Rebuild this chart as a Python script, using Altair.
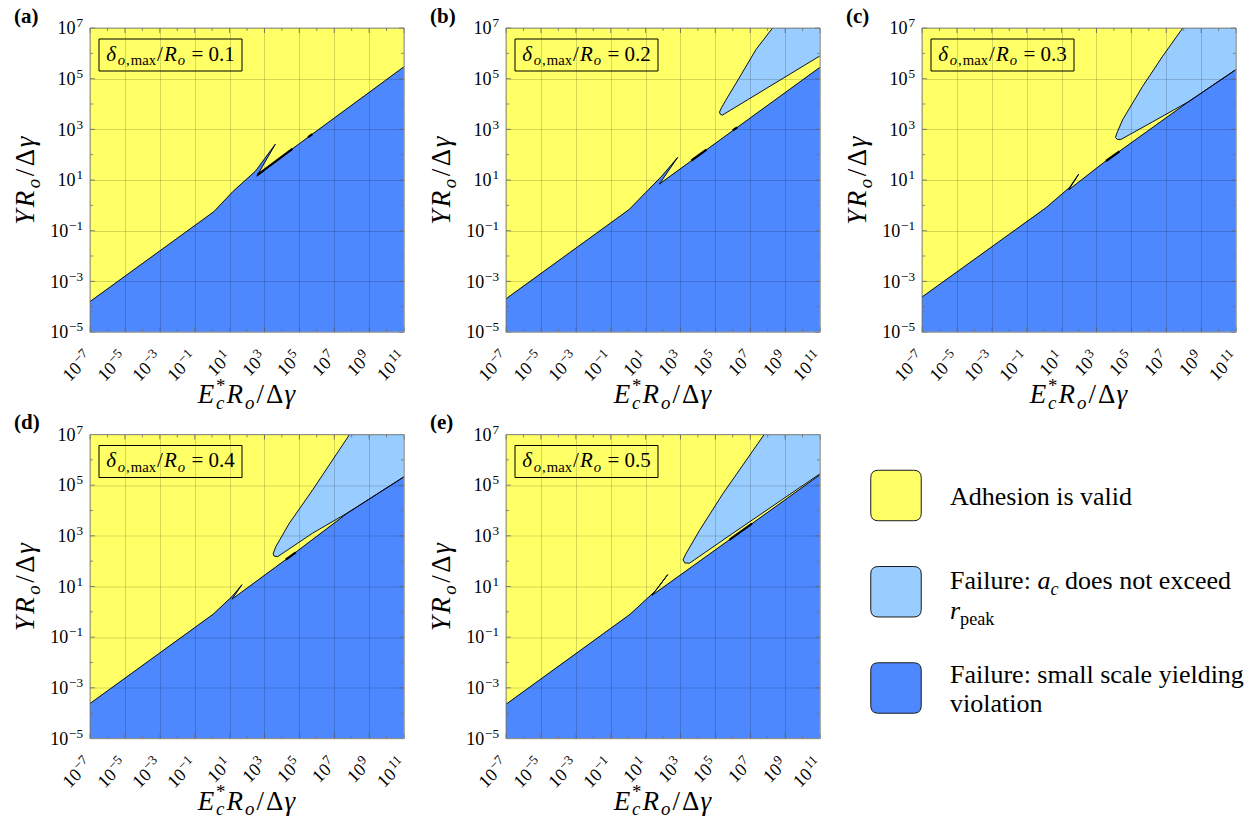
import altair as alt
import pandas as pd

FONT = "Liberation Serif"
YELLOW = "#FFFF66"
LIGHT_BLUE = "#99CCFF"
BLUE = "#4D88FF"
INK = "#000000"

PLOT_W = 314
PLOT_H = 304

# axes are log10 of the dimensionless groups
X_DOMAIN = [-7, 11]
Y_DOMAIN = [-5, 7]
X_TICKS = [-7, -5, -3, -1, 1, 3, 5, 7, 9, 11]
Y_TICKS = [-5, -3, -1, 1, 3, 5, 7]

PANEL_TAGS = ["(a)", "(b)", "(c)", "(d)", "(e)"]
DELTA_RATIOS = ["0.1", "0.2", "0.3", "0.4", "0.5"]

# upper edge of the small-scale-yielding failure region (log10 x, log10 y)
SSY_A_LOGX = [-7.0, 0.1, 1.2, 2.5, 3.62, 2.56, 4.62, 11.0]
SSY_A_LOGY = [-3.8, -0.25, 0.55, 1.36, 2.41, 1.15, 2.24, 5.47]
SSY_B_LOGX = [-7.0, 0.07, 1.0, 1.94, 2.84, 1.79, 11.0]
SSY_B_LOGY = [-3.69, -0.16, 0.5, 1.16, 1.89, 0.84, 5.45]
SSY_C_LOGX = [-7.0, 0.1, 1.45, 1.98, 1.41, 3.4, 8.3, 11.0]
SSY_C_LOGY = [-3.62, -0.1, 0.70, 1.23, 0.61, 1.68, 4.1, 5.36]
SSY_D_LOGX = [-7.0, 0.07, 1.18, 1.71, 1.14, 4.6, 7.8, 11.0]
SSY_D_LOGY = [-3.62, -0.09, 0.63, 1.07, 0.50, 2.25, 3.92, 5.33]
SSY_E_LOGX = [-7.0, 0.11, 1.6, 2.27, 1.37, 11.0]
SSY_E_LOGY = [-3.65, -0.1, 0.85, 1.47, 0.65, 5.41]

# edge of the region where a_c does not exceed r_peak (top edge -> tip -> right edge)
PEAK_B_LOGX = [8.28, 7.33, 6.3, 5.6, 5.35, 5.24, 5.28, 5.4, 11.0]
PEAK_B_LOGY = [7.0, 6.15, 4.95, 4.15, 3.85, 3.68, 3.6, 3.56, 5.9]
PEAK_C_LOGX = [7.95, 6.8, 5.65, 4.51, 4.2, 4.09, 4.2, 4.4, 6.23, 8.3, 11.0]
PEAK_C_LOGY = [7.0, 5.89, 4.70, 3.39, 2.9, 2.68, 2.6, 2.6, 3.3, 4.1, 5.36]
PEAK_D_LOGX = [7.88, 5.77, 4.43, 3.66, 3.5, 3.55, 3.76, 5.77, 7.8, 11.0]
PEAK_D_LOGY = [7.0, 4.82, 3.5, 2.58, 2.3, 2.2, 2.18, 3.11, 3.92, 5.33]
PEAK_E_LOGX = [7.8, 5.43, 4.09, 3.32, 3.15, 3.25, 3.52, 6.0, 8.87, 11.0]
PEAK_E_LOGY = [7.0, 4.66, 3.21, 2.3, 2.05, 1.93, 1.92, 3.1, 4.45, 5.45]

# short stretches where the contour folds onto itself (pairs of end points)
FOLD_A_LOGX = [2.6, 4.6, 5.5, 5.75]
FOLD_A_LOGY = [1.2, 2.23, 2.69, 2.81]
FOLD_B_LOGX = [3.63, 4.49, 6.0, 6.25]
FOLD_B_LOGY = [1.77, 2.2, 2.96, 3.08]
FOLD_C_LOGX = [3.55, 4.32]
FOLD_C_LOGY = [1.75, 2.13]
FOLD_D_LOGX = [4.22, 4.8]
FOLD_D_LOGY = [2.06, 2.35]
FOLD_E_LOGX = [5.8, 7.1]
FOLD_E_LOGY = [2.84, 3.48]

LEGEND_SLOTS = [0, 1, 2]
LEGEND_COLORS = [YELLOW, LIGHT_BLUE, BLUE]

# approximate advance widths (em) of the serif face, for laying out mixed-style text
W_REG = {" ": 0.25, "(": 0.333, ")": 0.333, ",": 0.25, ".": 0.25, "/": 0.278,
         ":": 0.278, "=": 0.564, "*": 0.5, "\u2212": 0.564, "A": 0.722, "F": 0.556,
         "\u0394": 0.612, "a": 0.444, "c": 0.444, "d": 0.5, "e": 0.444, "g": 0.5,
         "h": 0.5, "i": 0.278, "k": 0.5, "l": 0.278, "m": 0.778, "n": 0.5, "o": 0.5,
         "p": 0.5, "r": 0.333, "s": 0.389, "t": 0.278, "u": 0.5, "v": 0.5, "x": 0.5,
         "y": 0.5}
W_ITA = {"E": 0.611, "R": 0.611, "Y": 0.556, "a": 0.5, "c": 0.444, "o": 0.5,
         "r": 0.389, "\u03b4": 0.5, "\u03b3": 0.44}
W_BOLD = {"(": 0.333, ")": 0.333, "a": 0.5, "b": 0.556, "c": 0.444, "d": 0.556,
          "e": 0.444}


def text_width(text, style, size):
    table = {"i": W_ITA, "b": W_BOLD}.get(style, W_REG)
    return sum(table.get(ch, W_REG.get(ch, 0.5)) for ch in text) * size


def rich(pieces, ax, ay, size, angle=0, center=False, gap=0.0):
    """Lay out (text, style, level[, stacked]) pieces; level -1 = subscript, 1 = superscript.
    Leading/trailing blanks are turned into advance, since SVG collapses them."""
    items, adv = [], 0.0
    for p in pieces:
        text, style, level = p[0], p[1], p[2]
        stacked = len(p) > 3 and p[3]
        fs = size if level == 0 else round(size * 0.7, 2)
        shift = 0.0 if level == 0 else (0.22 * size if level < 0 else -0.42 * size)
        lead = len(text) - len(text.lstrip(" "))
        core = text.strip(" ")
        start_at = adv + text_width(" " * lead, "r", fs)
        items.append((core, style, fs, start_at, shift))
        if not stacked:
            adv += text_width(text, style, fs) + gap
    total = adv - gap
    start = -total / 2 if center else 0.0
    rows = []
    for text, style, fs, d, s in items:
        d += start
        if angle == 270:
            x, y = ax + s, ay - d
        else:
            x, y = ax + d, ay + s
        rows.append({"t": text, "px": x, "py": y, "fs": fs, "ang": angle, "style": style})
    return rows


def text_layers(rows):
    df = pd.DataFrame(rows)
    layers = []
    for style, (fstyle, fweight) in {"r": ("normal", "normal"), "i": ("italic", "normal"),
                                     "b": ("normal", "bold")}.items():
        part = df[df["style"] == style]
        if part.empty:
            continue
        layers.append(
            alt.Chart(part).mark_text(align="left", baseline="alphabetic", font=FONT,
                                      fontStyle=fstyle, fontWeight=fweight, color=INK)
            .encode(x=alt.X("px:Q", scale=None), y=alt.Y("py:Q", scale=None),
                    text="t:N", size=alt.Size("fs:Q", scale=None),
                    angle=alt.Angle("ang:Q", scale=None))
        )
    return layers


X_SCALE = alt.Scale(domain=X_DOMAIN, nice=False, zero=False)
Y_SCALE = alt.Scale(domain=Y_DOMAIN, nice=False, zero=False)
GRID = dict(grid=True, labels=False, ticks=False, domain=False, title=None, zindex=1,
            gridColor="#000000", gridOpacity=0.16, gridWidth=1)
X_AXIS = alt.Axis(values=X_TICKS, **GRID)
Y_AXIS = alt.Axis(values=Y_TICKS, **GRID)
NO_VIEW = alt.ViewBackground(stroke="transparent", strokeWidth=0)


def xq(field):
    return alt.X(field, type="quantitative", scale=X_SCALE, axis=X_AXIS)


def yq(field):
    return alt.Y(field, type="quantitative", scale=Y_SCALE, axis=Y_AXIS)


def exp_text(v):
    return str(v).replace("-", "\u2212")


TICK_FS = 18
EXP_FS = 13.2


def tick_label_layers():
    layers = []
    # bottom axis: labels rotated 45 degrees, exponent end at the tick
    xdf = pd.DataFrame({"logx": X_TICKS, "exp": [exp_text(v) for v in X_TICKS]})
    xdf["w"] = xdf["exp"].map(lambda s: round(text_width(s, "r", EXP_FS) + 0.8, 1))
    for w, grp in xdf.groupby("w"):
        layers.append(
            alt.Chart(grp).mark_text(text="10", align="right", baseline="alphabetic", font=FONT,
                                     fontSize=TICK_FS, angle=315, dx=-w, xOffset=3, color=INK)
            .encode(x=xq("logx"), y=alt.value(PLOT_H + 27))
        )
    layers.append(
        alt.Chart(xdf).mark_text(align="right", baseline="alphabetic", font=FONT,
                                 fontSize=EXP_FS, angle=315, dy=-6.9, xOffset=3, color=INK)
        .encode(x=xq("logx"), y=alt.value(PLOT_H + 27), text="exp:N")
    )
    # left axis
    ydf = pd.DataFrame({"logy": Y_TICKS, "exp": [exp_text(v) for v in Y_TICKS]})
    ydf["w"] = ydf["exp"].map(lambda s: round(text_width(s, "r", EXP_FS) + 0.8, 1))
    for w, grp in ydf.groupby("w"):
        layers.append(
            alt.Chart(grp).mark_text(text="10", align="right", baseline="alphabetic", font=FONT,
                                     fontSize=TICK_FS, dx=-(7 + w), dy=6.2, color=INK)
            .encode(x=alt.value(0), y=yq("logy"))
        )
    layers.append(
        alt.Chart(ydf).mark_text(align="right", baseline="alphabetic", font=FONT,
                                 fontSize=EXP_FS, dx=-7, dy=-0.7, color=INK)
        .encode(x=alt.value(0), y=yq("logy"), text="exp:N")
    )
    return layers


def edge_tick_layers():
    # short inward ticks on all four sides: longer at labelled decades
    layers = []
    xt = pd.DataFrame({"logx": list(range(X_DOMAIN[0], X_DOMAIN[1] + 1))})
    xt["len"] = [5 if v in X_TICKS else 3 for v in xt["logx"]]
    yt = pd.DataFrame({"logy": list(range(Y_DOMAIN[0], Y_DOMAIN[1] + 1))})
    yt["len"] = [5 if v in Y_TICKS else 3 for v in yt["logy"]]
    for n in (3, 5):
        xs = xt[xt["len"] == n]
        ys = yt[yt["len"] == n]
        rule = dict(color="#6e6e6e", strokeWidth=0.8)
        layers.append(alt.Chart(xs).mark_rule(**rule)
                      .encode(x=xq("logx"), y=alt.value(0), y2=alt.value(n)))
        layers.append(alt.Chart(xs).mark_rule(**rule)
                      .encode(x=xq("logx"), y=alt.value(PLOT_H), y2=alt.value(PLOT_H - n)))
        layers.append(alt.Chart(ys).mark_rule(**rule)
                      .encode(y=yq("logy"), x=alt.value(0), x2=alt.value(n)))
        layers.append(alt.Chart(ys).mark_rule(**rule)
                      .encode(y=yq("logy"), x=alt.value(PLOT_W), x2=alt.value(PLOT_W - n)))
    return layers


def polygon(xs, ys, color):
    df = pd.DataFrame({"logx": xs, "logy": ys, "k": range(len(xs))})
    return (alt.Chart(df).mark_line(fill=color, stroke=color, strokeWidth=0.6, clip=True)
            .encode(x=xq("logx"), y=yq("logy"), order=alt.Order("k:Q")))


def contour(xs, ys, width=0.9):
    df = pd.DataFrame({"logx": xs, "logy": ys, "k": range(len(xs))})
    return (alt.Chart(df).mark_line(color=INK, strokeWidth=width, clip=True)
            .encode(x=xq("logx"), y=yq("logy"), order=alt.Order("k:Q")))


def folds(xs, ys):
    df = pd.DataFrame({"logx": xs, "logy": ys, "seg": [i // 2 for i in range(len(xs))],
                       "k": range(len(xs))})
    return (alt.Chart(df).mark_line(color=INK, strokeWidth=2.2, clip=True)
            .encode(x=xq("logx"), y=yq("logy"), detail="seg:N", order=alt.Order("k:Q")))


FRAME = pd.DataFrame({"x0": [X_DOMAIN[0]], "x1": [X_DOMAIN[1]],
                      "y0": [Y_DOMAIN[0]], "y1": [Y_DOMAIN[1]]})

Y_TITLE = [("Y", "i", 0), ("R", "i", 0), ("o", "i", -1), ("/", "r", 0),
           ("\u0394", "r", 0), ("\u03b3", "i", 0)]
X_TITLE = [("E", "i", 0), ("*", "r", 1, True), ("c", "i", -1), ("R", "i", 0),
           ("o", "i", -1), ("/", "r", 0), ("\u0394", "r", 0), ("\u03b3", "i", 0)]


def panel(tag, ratio, ssy_x, ssy_y, fold_x, fold_y, peak_x=None, peak_y=None):
    layers = [
        alt.Chart(FRAME).mark_rect(fill=YELLOW, strokeWidth=0)
        .encode(x=xq("x0"), x2="x1", y=yq("y0"), y2="y1")
    ]
    if peak_x:
        layers.append(polygon(peak_x + [X_DOMAIN[1]], peak_y + [Y_DOMAIN[1]], LIGHT_BLUE))
    layers.append(polygon(ssy_x + [X_DOMAIN[1], X_DOMAIN[0]],
                          ssy_y + [Y_DOMAIN[0], Y_DOMAIN[0]], BLUE))
    if peak_x:
        layers.append(contour(peak_x, peak_y))
    layers.append(contour(ssy_x, ssy_y))
    layers.append(folds(fold_x, fold_y))
    layers += edge_tick_layers()
    layers.append(
        alt.Chart(FRAME).mark_rect(fillOpacity=0, stroke="#9a9a9a", strokeWidth=1)
        .encode(x=xq("x0"), x2="x1", y=yq("y0"), y2="y1")
    )
    # parameter box
    layers.append(
        alt.Chart(FRAME).mark_rect(fillOpacity=0, stroke=INK, strokeWidth=1)
        .encode(x=alt.value(9), x2=alt.value(152), y=alt.value(11), y2=alt.value(43))
    )
    rows = []
    rows += rich([(tag, "b", 0)], -76, -5.5, 21)
    rows += rich(Y_TITLE, -56, PLOT_H / 2, 27, angle=270, center=True, gap=2.5)
    rows += rich(X_TITLE, PLOT_W / 2, PLOT_H + 71, 27, center=True, gap=2)
    annot = [("\u03b4", "i", 0), ("o", "i", -1), (",", "r", -1), ("max", "r", -1),
             ("/", "r", 0), ("R", "i", 0), ("o", "i", -1), (" = " + ratio, "r", 0)]
    rows += rich(annot, 80.5, 32.5, 21, center=True, gap=1.0)
    layers += tick_label_layers()
    layers += text_layers(rows)
    return alt.layer(*layers).properties(width=PLOT_W, height=PLOT_H, view=NO_VIEW)


panels = [
    panel(PANEL_TAGS[0], DELTA_RATIOS[0], SSY_A_LOGX, SSY_A_LOGY, FOLD_A_LOGX, FOLD_A_LOGY),
    panel(PANEL_TAGS[1], DELTA_RATIOS[1], SSY_B_LOGX, SSY_B_LOGY, FOLD_B_LOGX, FOLD_B_LOGY,
          PEAK_B_LOGX, PEAK_B_LOGY),
    panel(PANEL_TAGS[2], DELTA_RATIOS[2], SSY_C_LOGX, SSY_C_LOGY, FOLD_C_LOGX, FOLD_C_LOGY,
          PEAK_C_LOGX, PEAK_C_LOGY),
    panel(PANEL_TAGS[3], DELTA_RATIOS[3], SSY_D_LOGX, SSY_D_LOGY, FOLD_D_LOGX, FOLD_D_LOGY,
          PEAK_D_LOGX, PEAK_D_LOGY),
    panel(PANEL_TAGS[4], DELTA_RATIOS[4], SSY_E_LOGX, SSY_E_LOGY, FOLD_E_LOGX, FOLD_E_LOGY,
          PEAK_E_LOGX, PEAK_E_LOGY),
]

# legend: rounded swatches with descriptions
ROUNDED_SQUARE = ("M -0.7 -1 L 0.7 -1 Q 1 -1 1 -0.7 L 1 0.7 Q 1 1 0.7 1 L -0.7 1 "
                  "Q -1 1 -1 0.7 L -1 -0.7 Q -1 -1 -0.7 -1 Z")
swatches = (
    alt.Chart(pd.DataFrame({"slot": LEGEND_SLOTS}))
    .mark_point(shape=ROUNDED_SQUARE, size=2550, filled=True, opacity=1,
                stroke="#1a1a1a", strokeWidth=1)
    .encode(x=alt.value(-26),
            y=alt.Y("slot:Q", scale=alt.Scale(domain=[0, 2], range=[61, 253.5]), axis=None),
            fill=alt.Fill("slot:N", scale=alt.Scale(domain=LEGEND_SLOTS, range=LEGEND_COLORS),
                          legend=None))
)
LEG_X = 28
legend_rows = []
legend_rows += rich([("Adhesion is valid", "r", 0)], LEG_X, 70.7, 26)
legend_rows += rich([("Failure: ", "r", 0), ("a", "i", 0), ("c", "i", -1),
                     (" does not exceed", "r", 0)], LEG_X, 154.7, 26)
legend_rows += rich([("r", "i", 0), ("peak", "r", -1)], LEG_X, 184.7, 26)
legend_rows += rich([("Failure: small scale yielding", "r", 0)], LEG_X, 248.5, 26)
legend_rows += rich([("violation", "r", 0)], LEG_X, 277, 26)
legend = (alt.layer(swatches, *text_layers(legend_rows))
          .properties(width=PLOT_W, height=PLOT_H, view=NO_VIEW))

chart = (
    alt.concat(*panels, legend, columns=3, spacing={"row": 102.5, "column": 102},
               bounds="flush")
    .properties(padding={"left": 12, "top": 5, "right": 5, "bottom": 5})
    .configure_view(stroke="transparent", strokeWidth=0)
    .configure(font=FONT)
)

chart.save("out.html", embed_options={"renderer": "svg", "actions": False})
